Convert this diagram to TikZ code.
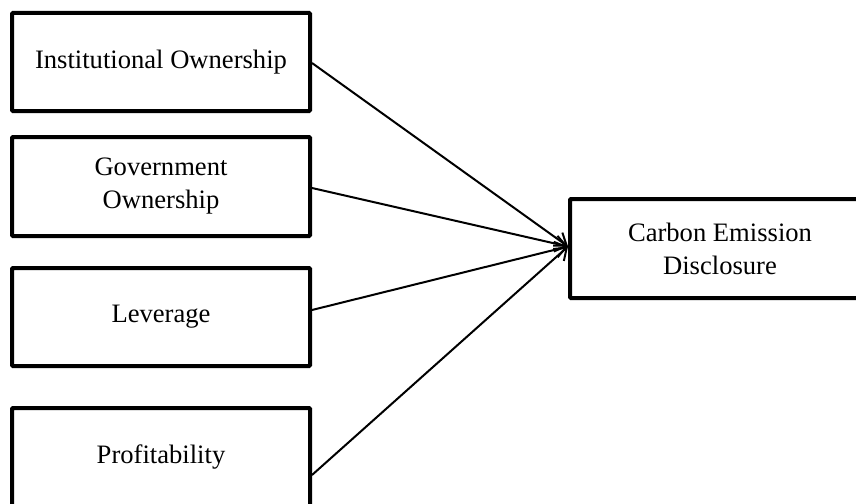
\documentclass[tikz,border=0pt]{standalone}
\usepackage{fontspec}
\setmainfont{Liberation Serif}
\usetikzlibrary{arrows.meta,calc}
\begin{document}
\begin{tikzpicture}[x=1pt,y=1pt,
  boxnode/.style={draw=black, line width=4pt, minimum width=298pt, minimum height=98pt,
    inner sep=0pt, align=center, font=\fontsize{26.6}{33}\selectfont, rounded corners=1pt},
  link/.style={line width=2pt, -{Straight Barb[length=11pt,width=16pt,line width=2pt]}}]
\useasboundingbox (0,0) rectangle (856,-503);
\fill[white] (0,0) rectangle (856,-503);
\node[boxnode] (b1) at (161,-62) {Institutional Ownership};
\node[boxnode, minimum height=99pt] (b2) at (161,-186.5) {Government\\Ownership};
\node[boxnode] (b3) at (161,-317) {Leverage};
\node[boxnode] (b4) at (161,-457) {Profitability};
\node[boxnode, minimum width=300pt, minimum height=99pt] (c) at (720,-248.5) {Carbon Emission\\Disclosure};
\coordinate (tip) at ($(c.west)+(0,2)$);
\draw[link] ($(b1.east)+(0,-1)$) -- (tip);
\draw[link] ($(b2.east)+(0,-1.5)$) -- (tip);
\draw[link] ($(b3.east)+(0,7)$) -- (tip);
\draw[link] ($(b4.east)+(0,-18)$) -- (tip);
\end{tikzpicture}
\end{document}
